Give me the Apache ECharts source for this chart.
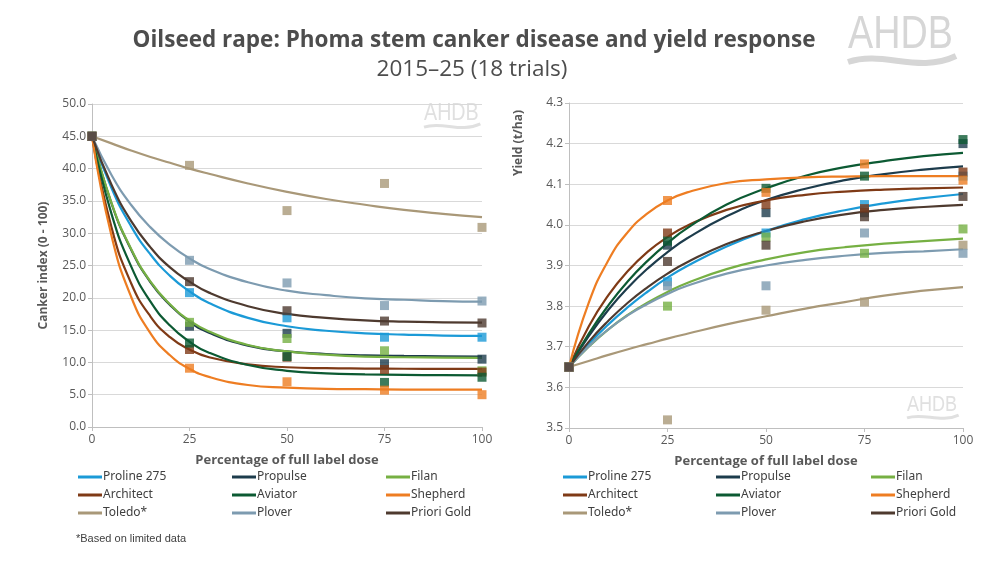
<!DOCTYPE html>
<html>
<head>
<meta charset="utf-8">
<script src="https://cdn.jsdelivr.net/npm/echarts@6/dist/echarts.min.js"></script>
<style>html,body{margin:0;padding:0;background:#fff}#c{width:1000px;height:574px}</style>
</head>
<body>
<div id="c"></div>
<script>
// ---- data ----
var products = ['Proline 275','Propulse','Filan','Architect','Aviator','Shepherd','Toledo*','Plover','Priori Gold'];
var colors = ['#1b9ad7','#1d3c4c','#76b043','#7f3a16','#0c5a33','#ee7d22','#a99878','#7d9bb0','#4e3a2f'];
var doseX = [0, 25, 50, 75, 100];
var curveX = [0, 5, 10, 15, 20, 25, 30, 40, 50, 60, 70, 80, 90, 100];
var cankerTicks = [0,5,10,15,20,25,30,35,40,45,50];
var yieldTicks = [3.5,3.6,3.7,3.8,3.9,4.0,4.1,4.2,4.3];

// canker index observed points
var cankerProline   = [45, 20.8, 16.9, 13.9, 13.9];
var cankerPropulse  = [45, 15.6, 14.5, 9.8, 10.5];
var cankerFilan     = [45, 16.2, 13.7, 11.8, 8.7];
var cankerArchitect = [45, 12.0, 10.8, 8.9, 8.5];
var cankerAviator   = [45, 13.0, 10.9, 6.9, 7.7];
var cankerShepherd  = [45, 9.1, 7.0, 5.7, 5.0];
var cankerToledo    = [45, 40.5, 33.5, 37.7, 30.9];
var cankerPlover    = [45, 25.8, 22.3, 18.8, 19.5];
var cankerPriori    = [45, 22.5, 18.0, 16.4, 16.1];

// canker index fitted curves (read at curveX)
var cankerFitProline   = [45, 37.0, 31.1, 26.7, 23.4, 21.0, 19.2, 16.9, 15.6, 14.9, 14.5, 14.3, 14.15, 14.1];
var cankerFitPropulse  = [45, 34.6, 27.5, 22.4, 18.9, 16.3, 14.6, 12.6, 11.7, 11.3, 11.1, 11.0, 10.95, 10.9];
var cankerFitFilan     = [45, 34.7, 27.6, 22.5, 19.0, 16.5, 14.8, 12.7, 11.7, 11.2, 10.9, 10.8, 10.75, 10.7];
var cankerFitArchitect = [45, 30.9, 22.3, 17.1, 13.9, 12.0, 10.8, 9.7, 9.25, 9.1, 9.05, 9.02, 9.0, 9.0];
var cankerFitAviator   = [45, 33.0, 24.9, 19.4, 15.7, 13.2, 11.5, 9.6, 8.7, 8.3, 8.15, 8.07, 8.03, 8.0];
var cankerFitShepherd  = [45, 29.6, 20.2, 14.5, 11.1, 9.0, 7.75, 6.5, 6.1, 5.9, 5.85, 5.8, 5.8, 5.8];
var cankerFitToledo    = [45, 43.9, 42.8, 41.8, 40.9, 40.0, 39.2, 37.7, 36.4, 35.3, 34.4, 33.6, 33.0, 32.5];
var cankerFitPlover    = [45, 39.0, 34.4, 30.9, 28.2, 26.1, 24.5, 22.4, 21.1, 20.4, 19.9, 19.7, 19.5, 19.4];
var cankerFitPriori    = [45, 37.5, 31.9, 27.8, 24.7, 22.5, 20.8, 18.7, 17.5, 16.9, 16.5, 16.3, 16.2, 16.15];

// yield observed points
var yieldProline   = [3.65, 3.86, 3.98, 4.05, 4.12];
var yieldPropulse  = [3.65, 3.95, 4.03, 4.03, 4.20];
var yieldFilan     = [3.65, 3.80, 3.97, 3.93, 3.99];
var yieldArchitect = [3.65, 3.98, 4.05, 4.04, 4.13];
var yieldAviator   = [3.65, 3.96, 4.09, 4.12, 4.21];
var yieldShepherd  = [3.65, 4.06, 4.08, 4.15, 4.11];
var yieldToledo    = [3.65, 3.52, 3.79, 3.81, 3.95];
var yieldPlover    = [3.65, 3.85, 3.85, 3.98, 3.93];
var yieldPriori    = [3.65, 3.91, 3.95, 4.02, 4.07];

// yield fitted curves (read at curveX)
var yieldFitProline   = [3.65, 3.706, 3.755, 3.798, 3.836, 3.87, 3.899, 3.947, 3.985, 4.014, 4.036, 4.053, 4.066, 4.076];
var yieldFitPropulse  = [3.65, 3.726, 3.791, 3.846, 3.893, 3.933, 3.967, 4.021, 4.061, 4.089, 4.11, 4.125, 4.136, 4.144];
var yieldFitFilan     = [3.65, 3.70, 3.743, 3.779, 3.809, 3.835, 3.857, 3.891, 3.915, 3.933, 3.945, 3.954, 3.96, 3.966];
var yieldFitArchitect = [3.65, 3.75, 3.827, 3.887, 3.934, 3.97, 3.998, 4.037, 4.06, 4.074, 4.082, 4.087, 4.09, 4.092];
var yieldFitAviator   = [3.65, 3.732, 3.802, 3.862, 3.912, 3.955, 3.992, 4.05, 4.09, 4.121, 4.142, 4.157, 4.169, 4.177];
var yieldFitShepherd  = [3.65, 3.808, 3.913, 3.983, 4.029, 4.06, 4.08, 4.103, 4.112, 4.117, 4.119, 4.12, 4.12, 4.12];
var yieldFitToledo    = [3.65, 3.665, 3.68, 3.694, 3.707, 3.72, 3.732, 3.755, 3.775, 3.794, 3.81, 3.826, 3.838, 3.847];
var yieldFitPlover    = [3.65, 3.701, 3.743, 3.778, 3.806, 3.83, 3.85, 3.88, 3.90, 3.914, 3.924, 3.931, 3.935, 3.94];
var yieldFitPriori    = [3.65, 3.712, 3.764, 3.809, 3.847, 3.88, 3.908, 3.953, 3.985, 4.009, 4.026, 4.037, 4.044, 4.049];

var cankerPts = [cankerProline, cankerPropulse, cankerFilan, cankerArchitect, cankerAviator, cankerShepherd, cankerToledo, cankerPlover, cankerPriori];
var cankerFit = [cankerFitProline, cankerFitPropulse, cankerFitFilan, cankerFitArchitect, cankerFitAviator, cankerFitShepherd, cankerFitToledo, cankerFitPlover, cankerFitPriori];
var yieldPts = [yieldProline, yieldPropulse, yieldFilan, yieldArchitect, yieldAviator, yieldShepherd, yieldToledo, yieldPlover, yieldPriori];
var yieldFit = [yieldFitProline, yieldFitPropulse, yieldFitFilan, yieldFitArchitect, yieldFitAviator, yieldFitShepherd, yieldFitToledo, yieldFitPlover, yieldFitPriori];

// ---- build ----
function pairs(xs, ys){ return xs.map(function(x,i){ return [x, ys[i]]; }); }
var FONT = "'Open Sans', 'Noto Sans', sans-serif";
var series = [];
[cankerFit, yieldFit].forEach(function(fits, gi){
  fits.forEach(function(ys, i){
    series.push({
      name: products[i], type: 'line', xAxisIndex: gi, yAxisIndex: gi,
      data: pairs(curveX, ys), smooth: 0.5, showSymbol: false, symbol: 'none',
      lineStyle: {color: colors[i], width: 2.2}, itemStyle: {color: colors[i]}, z: 2, silent: true
    });
  });
});
[cankerPts, yieldPts].forEach(function(pts, gi){
  pts.forEach(function(ys, i){
    series.push({
      name: products[i] + ' obs', type: 'scatter', xAxisIndex: gi, yAxisIndex: gi,
      data: pairs(doseX, ys), symbol: 'rect', symbolSize: 9,
      itemStyle: {color: colors[i]}, z: 3, silent: true
    });
  });
});

var legendCols = [[78, 232, 386], [563, 716, 871]];
var legendRows = [471, 489, 507];
var legends = [];
legendCols.forEach(function(cols){
  products.forEach(function(p, i){
    legends.push({
      left: cols[i % 3], top: legendRows[Math.floor(i / 3)], padding: 0,
      data: [{name: p, icon: 'rect'}], itemWidth: 24, itemHeight: 3, selectedMode: false,
      textStyle: {fontSize: 12, color: '#404040', fontFamily: "'Noto Sans', sans-serif", padding: [0,0,0,-4]}
    });
  });
});

function xAxisCfg(gi){
  return {
    type: 'value', gridIndex: gi, min: 0, max: 100, interval: 25,
    name: 'Percentage of full label dose', nameLocation: 'middle', nameGap: 27,
    nameTextStyle: {fontSize: 13, fontWeight: 'bold', color: '#595959', fontFamily: FONT},
    axisLine: {show: true, lineStyle: {color: '#bfbfbf', width: 1}},
    axisTick: {show: true, length: 4, lineStyle: {color: '#bfbfbf'}},
    axisLabel: {fontSize: 12, color: '#595959', fontFamily: FONT, margin: 7},
    splitLine: {show: false}
  };
}
function yAxisCfg(gi, mn, mx, iv, nm, gap){
  return {
    type: 'value', gridIndex: gi, min: mn, max: mx, interval: iv,
    name: nm, nameLocation: 'middle', nameGap: gap,
    nameTextStyle: {fontSize: 12, fontWeight: 'bold', color: '#595959', fontFamily: FONT},
    axisLine: {show: true, lineStyle: {color: '#bfbfbf', width: 1}},
    axisTick: {show: true, length: 4, lineStyle: {color: '#bfbfbf'}},
    axisLabel: {fontSize: 12, color: '#595959', fontFamily: FONT, margin: 6,
      formatter: function(v){ return (Math.round(v * 10) / 10).toFixed(1); }},
    splitLine: {show: true, lineStyle: {color: '#d9d9d9', width: 1}}
  };
}

function logo(x, y, size, col, lw){
  var s = size / 46;
  return {
    type: 'group', x: x, y: y, silent: true,
    children: [
      {type: 'text', x: 0, y: 0, scaleX: 0.82, style: {text: 'AHDB', fontSize: size, fontFamily: "'Liberation Sans', Arial, sans-serif", fill: col}},
      {type: 'bezierCurve', shape: {x1: 0, y1: 50*s, cpx1: 35*s, cpy1: 38*s, cpx2: 70*s, cpy2: 62*s, x2: 108*s, y2: 44*s},
       style: {stroke: col, lineWidth: lw, fill: null}}
    ]
  };
}

var option = {
  backgroundColor: '#ffffff',
  animation: false,
  title: [
    {text: 'Oilseed rape: Phoma stem canker disease and yield response', left: 469, top: 24, textAlign: 'center',
     textStyle: {fontSize: 22.5, fontWeight: 'bold', color: '#4d4d4d', fontFamily: FONT}},
    {text: '2015–25 (18 trials)', left: 467, top: 53, textAlign: 'center',
     textStyle: {fontSize: 22.5, fontWeight: 'normal', color: '#4d4d4d', fontFamily: FONT}}
  ],
  grid: [
    {left: 92, right: 518, top: 104, bottom: 147, containLabel: false},
    {left: 569, right: 37, top: 103, bottom: 146, containLabel: false}
  ],
  xAxis: [xAxisCfg(0), xAxisCfg(1)],
  yAxis: [yAxisCfg(0, 0, 50, 5, 'Canker index (0 - 100)', 42), yAxisCfg(1, 3.5, 4.3, 0.1, '', 40)],
  legend: legends,
  series: series,
  graphic: [
    logo(848, 12, 46, '#d6d6d6', 6),
    logo(424, 101, 24, '#e0e0e0', 3),
    logo(907, 394, 22, '#e0e0e0', 3),
    {type: 'text', left: 513, top: 110, rotation: Math.PI / 2, silent: true,
     style: {text: 'Yield (t/ha)', fontSize: 12, fontWeight: 'bold', fill: '#595959', fontFamily: FONT}},
    {type: 'text', left: 76, top: 533, silent: true,
     style: {text: '*Based on limited data', fontSize: 11, fill: '#404040', fontFamily: "'Liberation Sans', Arial, sans-serif"}}
  ]
};
var chart = echarts.init(document.getElementById('c'), null, {renderer: 'canvas'});
chart.setOption(option);
</script>
</body>
</html>
